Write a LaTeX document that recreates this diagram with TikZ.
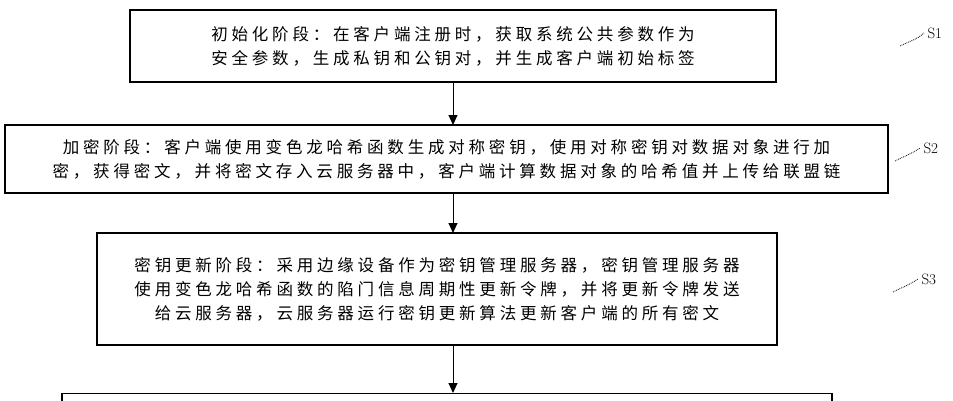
\documentclass[tikz,border=0pt]{standalone}
\usepackage{fontspec}
\newfontfamily\cjk[LetterSpace=23]{Noto Sans CJK SC}
\usetikzlibrary{arrows.meta}
\begin{document}
\begin{tikzpicture}[x=1pt,y=-1pt,
  stepbox/.style={draw,line width=1.2pt,inner sep=0pt,align=center,font=\cjk\fontsize{16.5}{24}\selectfont},
  flow/.style={line width=1pt,-{Triangle[length=10pt,width=9pt]}},
  lbl/.style={font=\fontsize{15}{15}\selectfont}]
\useasboundingbox (0,0) rectangle (953,400);
\clip (0,0) rectangle (953,400);
\node[stepbox,minimum width=646pt,minimum height=72pt] (b1) at (453,46) {初始化阶段：在客户端注册时，获取系统公共参数作为\\安全参数，生成私钥和公钥对，并生成客户端初始标签};
\node[stepbox,minimum width=883pt,minimum height=68pt] (b2) at (446.5,159) {加密阶段：客户端使用变色龙哈希函数生成对称密钥，使用对称密钥对数据对象进行加\\密，获得密文，并将密文存入云服务器中，客户端计算数据对象的哈希值并上传给联盟链};
\node[stepbox,minimum width=680pt,minimum height=112pt] (b3) at (437,289) {密钥更新阶段：采用边缘设备作为密钥管理服务器，密钥管理服务器\\使用变色龙哈希函数的陷门信息周期性更新令牌，并将更新令牌发送\\给云服务器，云服务器运行密钥更新算法更新客户端的所有密文};
\node[stepbox,minimum width=770pt,minimum height=60pt,anchor=north] (b4) at (447,393) {};
\draw[flow] (453,82) -- (453,125);
\draw[flow] (453,193) -- (453,233);
\draw[flow] (453,345) -- (453,393);
\node[lbl,anchor=west] (s1) at (924,33) {S1};
\node[lbl,anchor=west] (s2) at (920,148) {S2};
\node[lbl,anchor=west] (s3) at (918,279) {S3};
\draw[densely dotted,line width=0.8pt] (900,46) .. controls (912,40) and (916,40) .. (s1.west);
\draw[densely dotted,line width=0.8pt] (895,161) .. controls (907,155) and (911,154) .. (s2.west);
\draw[densely dotted,line width=0.8pt] (893,292) .. controls (905,286) and (909,285) .. (s3.west);
\end{tikzpicture}
\end{document}
